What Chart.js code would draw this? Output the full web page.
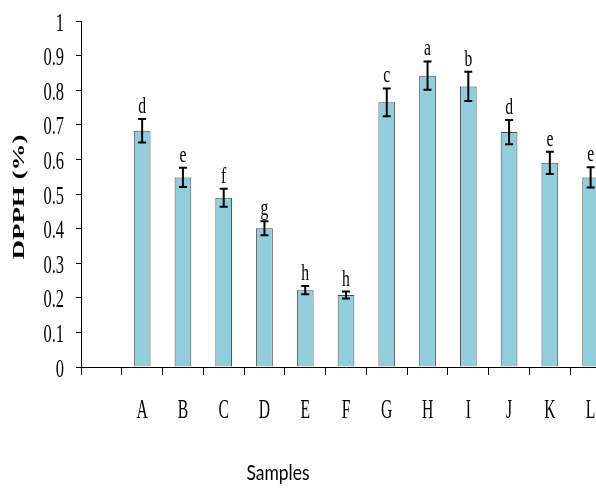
<!DOCTYPE html>
<html>
<head>
<meta charset="utf-8">
<script src="https://cdn.jsdelivr.net/npm/chart.js@4/dist/chart.umd.min.js"></script>
<style>
  html, body { margin: 0; padding: 0; background: #fff; overflow: hidden; }
  canvas { display: block; }
</style>
</head>
<body>
<canvas id="dpphChart" width="620" height="488"></canvas>
<script>
// data (first slot is the empty category left of A)
const categories = ['', 'A', 'B', 'C', 'D', 'E', 'F', 'G', 'H', 'I', 'J', 'K', 'L'];
const dpphValues = [null, 0.683, 0.548, 0.489, 0.401, 0.222, 0.208, 0.765, 0.842, 0.811, 0.679, 0.590, 0.548];
const dpphErrors = [null, 0.034, 0.028, 0.026, 0.020, 0.012, 0.010, 0.040, 0.041, 0.042, 0.035, 0.032, 0.029];
const groupLetters = ['', 'd', 'e', 'f', 'g', 'h', 'h', 'c', 'a', 'b', 'd', 'e', 'e'];

// squeezed text, the original figure is narrowed sideways
function drawText(ctx, txt, x, y, font, sx, align) {
    ctx.save();
    ctx.translate(x, y);
    ctx.scale(sx, 1);
    ctx.font = font;
    ctx.textAlign = align;
    ctx.textBaseline = 'alphabetic';
    ctx.fillStyle = '#000';
    ctx.fillText(txt, 0, 0);
    ctx.restore();
}

const labelsPlugin = {
    id: 'labelsPlugin',
    afterDraw(chart) {
        const ctx = chart.ctx;
        const xs = chart.scales.x;
        const ys = chart.scales.y;
        const meta = chart.getDatasetMeta(0);

        // error bars + letters
        ctx.save();
        ctx.strokeStyle = '#000';
        ctx.lineWidth = 2;
        dpphValues.forEach((v, i) => {
            if (v === null) return;
            const bx = meta.data[i].x;
            const yTop = ys.getPixelForValue(v + dpphErrors[i]);
            const yBot = ys.getPixelForValue(v - dpphErrors[i]);
            ctx.beginPath();
            ctx.moveTo(bx, yTop); ctx.lineTo(bx, yBot);
            ctx.moveTo(bx - 4, yTop); ctx.lineTo(bx + 4, yTop);
            ctx.moveTo(bx - 4, yBot); ctx.lineTo(bx + 4, yBot);
            ctx.stroke();
            drawText(ctx, groupLetters[i], bx, yTop - 6, '24px "Liberation Serif"', 0.65, 'center');
        });
        ctx.restore();

        // y tick labels
        ys.ticks.forEach(t => {
            const lbl = String(Math.round(t.value * 10) / 10);
            drawText(ctx, lbl, 64, ys.getPixelForValue(t.value) + 9.5, '25px "Liberation Serif"', 0.66, 'right');
        });

        // x category labels
        categories.forEach((c, i) => {
            if (!c) return;
            drawText(ctx, c, xs.getPixelForValue(i), 418, '27px "Liberation Serif"', 0.58, 'center');
        });

        // axis titles
        ctx.font = '22px Lato';
        const sw = ctx.measureText('Samples').width;
        drawText(ctx, 'Samples', 278, 480, '22px Lato', 63 / sw, 'center');
        ctx.save();
        ctx.translate(24, (chart.chartArea.top + chart.chartArea.bottom) / 2 + 3);
        ctx.rotate(-Math.PI / 2);
        ctx.scale(1, 0.65);
        ctx.font = 'bold 27px "Liberation Serif"';
        ctx.textAlign = 'center';
        ctx.textBaseline = 'alphabetic';
        ctx.fillStyle = '#000';
        ctx.fillText('DPPH (%)', 0, 0);
        ctx.restore();
    }
};

new Chart(document.getElementById('dpphChart'), {
    type: 'bar',
    data: {
        labels: categories,
        datasets: [{
            data: dpphValues,
            backgroundColor: '#92CDDC',
            borderColor: '#4a4a4a',
            borderWidth: 1,
            categoryPercentage: 1,
            barPercentage: 0.41
        }]
    },
    options: {
        responsive: false,
        animation: false,
        layout: { padding: { top: 21, right: 9, left: 0, bottom: 0 } },
        plugins: {
            legend: { display: false },
            tooltip: { enabled: false }
        },
        scales: {
            x: {
                grid: { drawOnChartArea: false, drawTicks: true, tickLength: 8, color: '#000', offset: true },
                border: { color: '#000' },
                ticks: { display: false },
                afterFit(s) { s.height = 121; }
            },
            y: {
                min: 0,
                max: 1,
                ticks: { display: false, stepSize: 0.1 },
                grid: { drawOnChartArea: false, drawTicks: true, tickLength: 5, color: '#000' },
                border: { color: '#000' },
                afterFit(s) { s.width = 81; }
            }
        }
    },
    plugins: [labelsPlugin]
});
</script>
</body>
</html>
